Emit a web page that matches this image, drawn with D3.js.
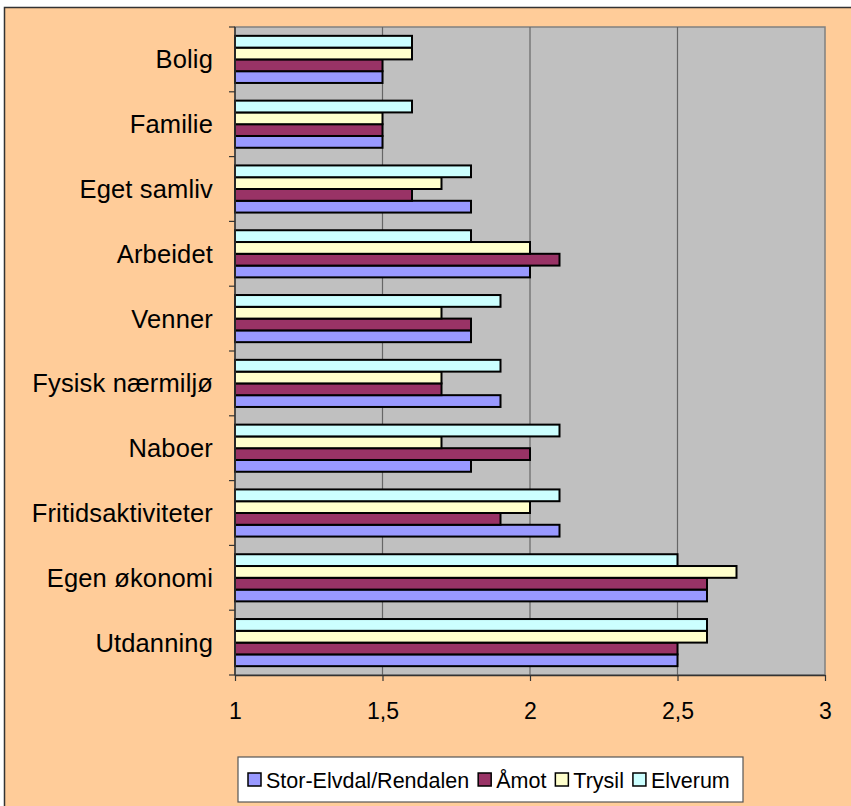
<!DOCTYPE html>
<html>
<head>
<meta charset="utf-8">
<script src="https://cdn.jsdelivr.net/npm/d3@7"></script>
<style>
  body { margin: 0; background: #fff; }
  text { font-family: "Liberation Sans", Arial, sans-serif; fill: #000; }
</style>
</head>
<body>
<div id="chart"></div>
<script>
// categories, top to bottom as drawn
const categories = ["Bolig", "Familie", "Eget samliv", "Arbeidet", "Venner",
    "Fysisk nærmiljø", "Naboer", "Fritidsaktiviteter", "Egen økonomi", "Utdanning"];

const storElvdal = [1.5, 1.5, 1.8, 2.0, 1.8, 1.9, 1.8, 2.1, 2.6, 2.5];
const amot       = [1.5, 1.5, 1.6, 2.1, 1.8, 1.7, 2.0, 1.9, 2.6, 2.5];
const trysil     = [1.6, 1.5, 1.7, 2.0, 1.7, 1.7, 1.7, 2.0, 2.7, 2.6];
const elverum    = [1.6, 1.6, 1.8, 1.8, 1.9, 1.9, 2.1, 2.1, 2.5, 2.6];

const seriesNames = ["Stor-Elvdal/Rendalen", "Åmot", "Trysil", "Elverum"];
const seriesColors = ["#9999FF", "#993366", "#FFFFCC", "#CCFFFF"];
const xTicks = [1, 1.5, 2, 2.5, 3];

const width = 851, height = 806;
const plot = {left: 235, right: 825, top: 27, bottom: 675};

let series = [storElvdal, amot, trysil, elverum].map((vals, i) => ({
    name: seriesNames[i], color: seriesColors[i], values: vals
}));

let svg = d3.select("#chart").append("svg")
    .attr("width", width)
    .attr("height", height);

// outer chart area
svg.append("rect")
    .attr("x", 4.5).attr("y", 7.5)
    .attr("width", 900).attr("height", 900)
    .attr("fill", "#FFCC99")
    .attr("stroke", "#333")
    .attr("stroke-width", 1.5);

let x = d3.scaleLinear().domain([1, 3]).range([plot.left, plot.right]);
let y = d3.scaleBand().domain(categories).range([plot.top, plot.bottom]);

// Excel draws the last series on top inside each group
let yInner = d3.scaleBand()
    .domain(seriesNames.slice().reverse())
    .range([0, y.bandwidth()])
    .paddingInner(0)
    .paddingOuter(0.75);

// plot area
svg.append("rect")
    .attr("x", plot.left).attr("y", plot.top)
    .attr("width", plot.right - plot.left)
    .attr("height", plot.bottom - plot.top)
    .attr("fill", "#C0C0C0")
    .attr("stroke", "#808080")
    .attr("stroke-width", 1.5);

// gridlines
svg.append("g")
    .selectAll("line")
    .data(xTicks.filter(d => d > 1 && d < 3))
    .enter()
    .append("line")
    .attr("x1", d => x(d)).attr("x2", d => x(d))
    .attr("y1", plot.top).attr("y2", plot.bottom)
    .attr("stroke", "#666")
    .attr("stroke-width", 1.2);

// bars
let groups = svg.append("g")
    .selectAll("g")
    .data(series)
    .enter()
    .append("g")
    .attr("fill", d => d.color);

groups.selectAll("rect")
    .data(s => s.values.map((v, i) => ({name: s.name, cat: categories[i], value: v})))
    .enter()
    .append("rect")
    .attr("x", x(1))
    .attr("y", d => y(d.cat) + yInner(d.name))
    .attr("width", d => x(d.value) - x(1))
    .attr("height", yInner.bandwidth())
    .attr("stroke", "#000")
    .attr("stroke-width", 2);

// category axis
let yAxis = svg.append("g");
yAxis.append("line")
    .attr("x1", plot.left).attr("x2", plot.left)
    .attr("y1", plot.top).attr("y2", plot.bottom)
    .attr("stroke", "#333").attr("stroke-width", 1.5);
let boundaries = categories.map(c => y(c)).concat([plot.bottom]);
yAxis.selectAll(".tick")
    .data(boundaries)
    .enter()
    .append("line")
    .attr("x1", plot.left - 6).attr("x2", plot.left)
    .attr("y1", d => d).attr("y2", d => d)
    .attr("stroke", "#333").attr("stroke-width", 1.2);
yAxis.selectAll("text")
    .data(categories)
    .enter()
    .append("text")
    .attr("x", 213)
    .attr("y", d => y(d) + y.bandwidth() / 2)
    .attr("dy", "0.35em")
    .attr("text-anchor", "end")
    .style("font-size", "25.5px")
    .style("letter-spacing", "0.15px")
    .text(d => d);

// value axis
let xAxis = svg.append("g")
    .attr("transform", "translate(0," + plot.bottom + ")")
    .call(d3.axisBottom(x)
        .tickValues(xTicks)
        .tickSizeInner(6)
        .tickSizeOuter(0)
        .tickPadding(22)
        .tickFormat(d => String(d).replace(".", ",")));
xAxis.select(".domain").attr("stroke", "#333").attr("stroke-width", 1.5);
xAxis.selectAll(".tick line").attr("stroke", "#333").attr("stroke-width", 1.2);
xAxis.selectAll("text")
    .style("font-size", "23px")
    .style("font-family", "'Liberation Sans', Arial, sans-serif");

// legend
let legend = svg.append("g").attr("transform", "translate(238,757)");
legend.append("rect")
    .attr("width", 505).attr("height", 45)
    .attr("fill", "#fff")
    .attr("stroke", "#555")
    .attr("stroke-width", 1.2);

let items = legend.selectAll(".item")
    .data(series)
    .enter()
    .append("g");
items.append("rect")
    .attr("x", 0).attr("y", 16)
    .attr("width", 13).attr("height", 13)
    .attr("fill", d => d.color)
    .attr("stroke", "#000")
    .attr("stroke-width", 1.5);
items.append("text")
    .attr("x", 18).attr("y", 23)
    .attr("dy", "0.35em")
    .style("font-size", "21.5px")
    .text(d => d.name);

// lay items out one after another
let cursor = 10;
items.each(function() {
    let g = d3.select(this);
    g.attr("transform", "translate(" + cursor + ",0)");
    cursor += 18 + g.select("text").node().getComputedTextLength() + 9;
});
</script>
</body>
</html>
